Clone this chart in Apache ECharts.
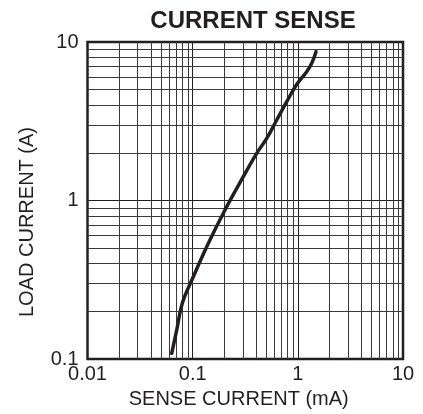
<!DOCTYPE html>
<html>
<head>
<meta charset="utf-8">
<script src="https://cdn.jsdelivr.net/npm/echarts@6/dist/echarts.min.js"></script>
<style>
html,body{margin:0;padding:0;background:#fff;}
#c{width:423px;height:414px;}
</style>
</head>
<body>
<div id="c"></div>
<script>
// Data (sense current mA, load current A)
var senseCurrent = [0.0632, 0.0705, 0.0797, 0.1014, 0.141, 0.203, 0.303, 0.406, 0.506, 0.630, 0.784, 0.975, 1.214, 1.355, 1.489];
var loadCurrent  = [0.1086, 0.152, 0.2246, 0.330, 0.537, 0.871, 1.413, 1.985, 2.466, 3.22, 4.20, 5.40, 6.50, 7.34, 8.69];

// Minor log grid lines
var xMinorLines = [0.02,0.03,0.04,0.05,0.06,0.07,0.08,0.09,0.2,0.3,0.4,0.5,0.6,0.7,0.8,0.9,2,3,4,5,6,7,8,9];
var yMinorLines = [0.2,0.3,0.4,0.5,0.6,0.7,0.8,0.9,2,3,4,5,6,7,8,9];

var FONT = '"Liberation Sans", Arial, Helvetica, sans-serif';
var INK = '#231f20';

var chart = echarts.init(document.getElementById('c'), null, {renderer: 'canvas'});

var pts = senseCurrent.map(function (x, i) { return [x, loadCurrent[i]]; });
var markData = xMinorLines.map(function (v) { return {xAxis: v}; })
  .concat(yMinorLines.map(function (v) { return {yAxis: v}; }));

chart.setOption({
  animation: false,
  backgroundColor: '#fff',
  title: {
    text: 'CURRENT SENSE',
    left: 248,
    textAlign: 'center',
    top: 4,
    textStyle: {fontFamily: FONT, fontSize: 24, fontWeight: 'bold', color: INK}
  },
  grid: {
    left: 87.5, right: 20, top: 42, bottom: 55,
    show: true, borderColor: INK, borderWidth: 2.5, backgroundColor: 'transparent'
  },
  xAxis: {
    type: 'log', logBase: 10, min: 0.01, max: 10,
    name: 'SENSE CURRENT (mA)', nameLocation: 'middle', nameGap: 30,
    nameTextStyle: {fontFamily: FONT, fontSize: 20, color: INK, padding: [0, 13, 0, 0]},
    axisLine: {show: false}, axisTick: {show: false},
    axisLabel: {fontFamily: FONT, fontSize: 20, color: INK, margin: 5,
      formatter: function (v) { return String(v); }},
    splitLine: {show: true, lineStyle: {color: INK, width: 1}}
  },
  yAxis: {
    type: 'log', logBase: 10, min: 0.1, max: 10,
    name: 'LOAD CURRENT (A)', nameLocation: 'middle', nameGap: 50,
    nameTextStyle: {fontFamily: FONT, fontSize: 20, color: INK, padding: [0, 43, 0, 0]},
    axisLine: {show: false}, axisTick: {show: false},
    axisLabel: {fontFamily: FONT, fontSize: 20, color: INK, margin: 9,
      formatter: function (v) { return String(v); }},
    splitLine: {show: true, lineStyle: {color: INK, width: 1}}
  },
  series: [
    {
      type: 'line', data: [], z: 1, silent: true,
      markLine: {
        silent: true, symbol: ['none', 'none'], animation: false,
        label: {show: false},
        lineStyle: {type: 'solid', color: '#3a3a3a', width: 1},
        emphasis: {disabled: true},
        data: markData
      }
    },
    {
      type: 'line', data: pts, z: 5, smooth: 0.4, showSymbol: false, silent: true,
      lineStyle: {color: INK, width: 3.5, cap: 'round'}
    }
  ]
});
</script>
</body>
</html>
